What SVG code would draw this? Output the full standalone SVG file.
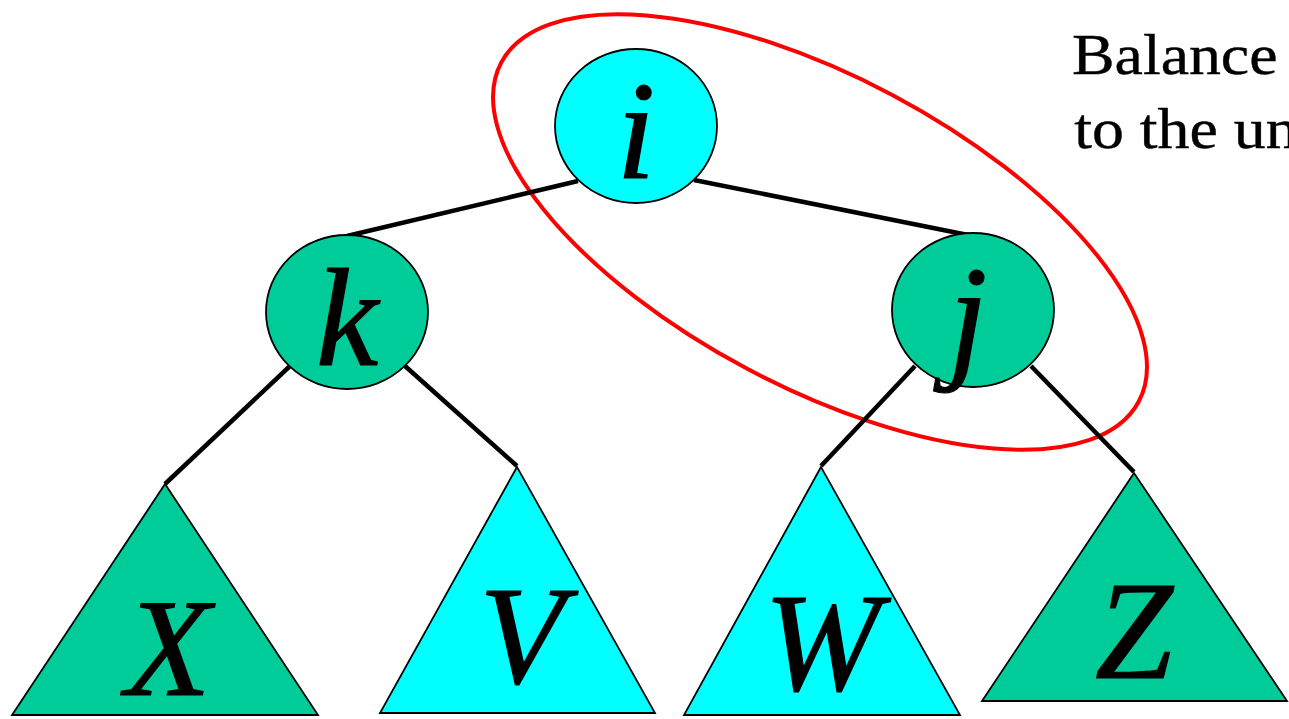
<svg xmlns="http://www.w3.org/2000/svg" width="1289" height="719" viewBox="0 0 1289 719">
<style>
.g{fill:#00CC99;stroke:#000;stroke-width:1.8}
.c{fill:#00FFFF;stroke:#000;stroke-width:1.8}
.lbl{font-family:"Liberation Serif","Times New Roman",serif;font-style:italic;font-size:140px;fill:#000;stroke:#000;stroke-width:1.2;text-anchor:middle}
.edge{stroke:#000;stroke-width:4.5;fill:none}
.note{font-family:"Liberation Serif","Times New Roman",serif;font-size:56px;fill:#000;stroke:#000;stroke-width:0.4}
</style>
<rect width="1289" height="719" fill="#fff"/>
<ellipse id="highlight" cx="820" cy="232" rx="361" ry="155" transform="rotate(28 820 232)" fill="none" stroke="#FF0000" stroke-width="4"/>
<g id="connectors">
<line class="edge" x1="578" y1="181" x2="347" y2="236"/>
<line class="edge" x1="694" y1="180" x2="973" y2="236"/>
<line class="edge" x1="290" y1="366" x2="165" y2="484"/>
<line class="edge" x1="405" y1="366" x2="517" y2="466"/>
<line class="edge" x1="915" y1="366" x2="821" y2="466"/>
<line class="edge" x1="1031" y1="366" x2="1134" y2="472"/>
</g>
<g id="node-i">
<ellipse class="c" cx="636" cy="126" rx="81" ry="77"/>
<text class="lbl" x="636" y="178">i</text>
</g>
<g id="node-k">
<ellipse class="g" cx="347" cy="312" rx="81" ry="77"/>
<text class="lbl" x="347" y="365">k</text>
</g>
<g id="node-j">
<ellipse class="g" cx="973" cy="310" rx="81" ry="77"/>
<text class="lbl" x="968" y="363">j</text>
</g>
<g id="node-X">
<polygon class="g" points="165,484 12,715 318,715"/>
<text class="lbl" x="168" y="695">X</text>
</g>
<g id="node-V">
<polygon class="c" points="517,467 380,713 655,713"/>
<text class="lbl" x="522" y="683">V</text>
</g>
<g id="node-W">
<polygon class="c" points="821,467 684,715 960,715"/>
<text class="lbl" x="822" y="690">W</text>
</g>
<g id="node-Z">
<polygon class="g" points="1134,473 982,701 1287,701"/>
<text class="lbl" x="1134" y="678">Z</text>
</g>
<g id="note" transform="translate(1072 0) scale(1.14 1)">
<text class="note" x="0" y="74">Balance</text>
<text class="note" x="2" y="148">to the un</text>
</g>
</svg>
